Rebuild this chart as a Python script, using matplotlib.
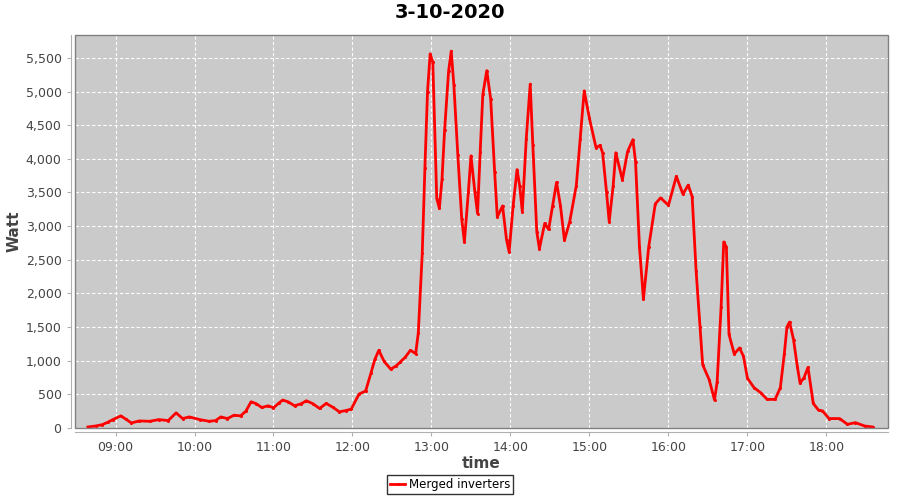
"""Daily power curve of the merged inverters (3-10-2020)."""

import matplotlib

matplotlib.use("Agg")
import matplotlib.dates as mdates
import matplotlib.pyplot as plt
import pandas as pd
from matplotlib.patches import Rectangle

TITLE = "3-10-2020"
SERIES_NAME = "Merged inverters"

# Sample times (HH:MM) and power in Watt
times = [
    "08:39", "08:45", "08:50", "08:54", "08:58", "09:04", "09:08", "09:12", "09:18",
    "09:26", "09:33", "09:40", "09:46", "09:51", "09:56", "10:04", "10:11", "10:16",
    "10:20", "10:25", "10:30", "10:35", "10:39", "10:43", "10:47", "10:51", "10:56",
    "11:00", "11:04", "11:07", "11:11", "11:16", "11:21", "11:25", "11:30", "11:35",
    "11:40", "11:45", "11:50", "11:55", "11:59", "12:05", "12:10", "12:14", "12:17",
    "12:20", "12:24", "12:29", "12:33", "12:36", "12:40", "12:44", "12:48", "12:50",
    "12:53", "12:55", "12:57", "12:59", "13:01", "13:04", "13:06", "13:08", "13:10",
    "13:13", "13:15", "13:17", "13:20", "13:23", "13:25", "13:28", "13:30", "13:33",
    "13:35", "13:37", "13:39", "13:42", "13:45", "13:48", "13:50", "13:54", "13:57",
    "13:59", "14:02", "14:05", "14:07", "14:09", "14:12", "14:15", "14:17", "14:20",
    "14:22", "14:26", "14:29", "14:32", "14:35", "14:38", "14:41", "14:45", "14:50",
    "14:53", "14:56", "15:00", "15:05", "15:08", "15:10", "15:13", "15:15", "15:18",
    "15:20", "15:25", "15:29", "15:33", "15:35", "15:38", "15:41", "15:45", "15:50",
    "15:54", "16:00", "16:06", "16:11", "16:15", "16:18", "16:21", "16:24", "16:26",
    "16:31", "16:35", "16:37", "16:40", "16:42", "16:44", "16:46", "16:50", "16:54",
    "16:57", "17:00", "17:05", "17:10", "17:15", "17:21", "17:25", "17:28", "17:30",
    "17:32", "17:35", "17:38", "17:40", "17:43", "17:46", "17:50", "17:54", "17:57",
    "18:02", "18:10", "18:16", "18:22", "18:29", "18:35",
]
watt = [
    15, 30, 50, 85, 125, 180, 130, 75, 105,
    100, 125, 110, 225, 140, 165, 125, 100, 110,
    165, 140, 190, 180, 250, 390, 360, 305, 330,
    300, 370, 415, 390, 330, 360, 405, 360, 290,
    365, 310, 240, 260, 280, 505, 550, 815, 1020,
    1155, 990, 875, 920, 975, 1050, 1155, 1105, 1415,
    2600, 3860, 5000, 5560, 5435, 3410, 3265, 3700, 4435,
    5300, 5600, 5100, 4060, 3100, 2765, 3500, 4045, 3500,
    3185, 4100, 4960, 5310, 4885, 3800, 3135, 3300, 2800,
    2615, 3300, 3840, 3600, 3215, 4300, 5110, 4200, 2915,
    2665, 3040, 2950, 3300, 3650, 3300, 2790, 3065, 3600,
    4300, 5010, 4600, 4165, 4200, 4090, 3500, 3065, 3600,
    4090, 3690, 4110, 4285, 3960, 2690, 1915, 2690, 3330,
    3420, 3310, 3740, 3475, 3610, 3440, 2340, 1500, 940,
    715, 415, 690, 1800, 2765, 2690, 1390, 1100, 1190,
    1065, 740, 600, 525, 425, 425, 600, 1100, 1500,
    1575, 1315, 900, 665, 750, 900, 365, 265, 255,
    140, 140, 55, 80, 30, 15,
]

DAY = "2020-10-03 "
GRID_BG = "#cacaca"
TEXT_GRAY = "#444444"


def main():
    t = pd.to_datetime([DAY + s for s in times])

    fig = plt.figure(figsize=(9, 5), dpi=100)
    ax = fig.add_axes([0.083, 0.144, 0.904, 0.786])
    ax.set_facecolor(GRID_BG)

    ax.plot(t, watt, color="red", lw=2, marker="o", ms=1.2, solid_joinstyle="round",
            label=SERIES_NAME)

    ax.set_xlim(pd.Timestamp(DAY + "08:29"), pd.Timestamp(DAY + "18:47"))
    ax.set_ylim(0, 5840)
    ax.set_yticks(range(0, 5501, 500))
    ax.yaxis.set_major_formatter(matplotlib.ticker.StrMethodFormatter("{x:,.0f}"))
    ax.xaxis.set_major_locator(mdates.HourLocator())
    ax.xaxis.set_major_formatter(mdates.DateFormatter("%H:%M"))

    ax.grid(True, color="white", ls=(0, (3, 2)), lw=0.8)
    ax.set_axisbelow(True)

    # JFreeChart style: plot outline plus offset axis lines
    for side in ("top", "right"):
        ax.spines[side].set_visible(False)
    for side in ("left", "bottom"):
        ax.spines[side].set_position(("outward", 3))
        ax.spines[side].set_color("#b0b0b0")
    ax.add_patch(Rectangle((0, 0), 1, 1, transform=ax.transAxes, fill=False,
                           ec="#808080", lw=1, clip_on=False, zorder=5))

    ax.tick_params(colors="#b0b0b0", labelcolor=TEXT_GRAY, labelsize=9, length=3)
    ax.set_xlabel("time", fontsize=11, fontweight="bold", color=TEXT_GRAY, labelpad=1)
    ax.set_ylabel("Watt", fontsize=11, fontweight="bold", color=TEXT_GRAY, labelpad=3)
    fig.suptitle(TITLE, fontsize=14, fontweight="bold", y=0.995)

    leg = fig.legend(loc="lower center", bbox_to_anchor=(0.5, 0.0), fontsize=8.5,
                     frameon=True, fancybox=False, handlelength=1.3, borderpad=0.25,
                     handletextpad=0.3)
    leg.get_frame().set_edgecolor("black")
    leg.get_frame().set_linewidth(1)

    fig.savefig("out.png", dpi=100)
    print("[PLOT] Saved to out.png")


if __name__ == "__main__":
    main()
